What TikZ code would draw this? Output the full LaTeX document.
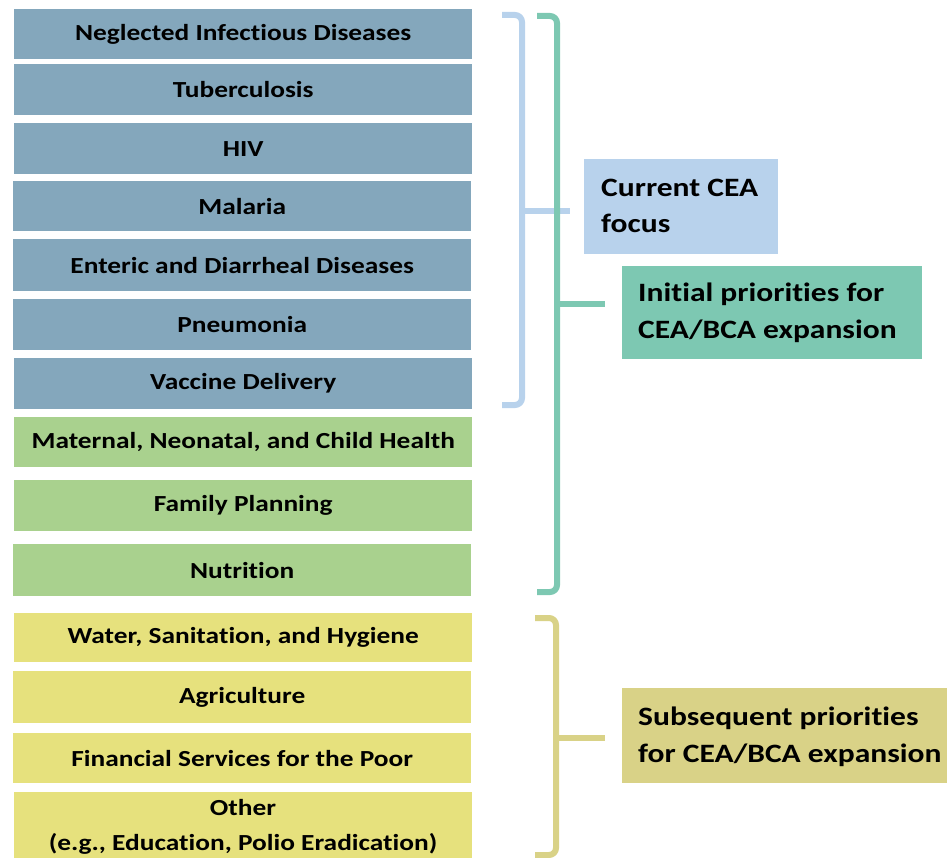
\documentclass[tikz,border=0pt]{standalone}
\usepackage{fontspec}
\setmainfont{Carlito}[FakeStretch=1.19, Ligatures=NoCommon]
\definecolor{boxblue}{RGB}{132,167,188}
\definecolor{boxgreen}{RGB}{169,209,142}
\definecolor{boxyellow}{RGB}{230,225,125}
\definecolor{lblblue}{RGB}{184,210,236}
\definecolor{lblteal}{RGB}{125,200,178}
\definecolor{lblolive}{RGB}{217,210,135}
\begin{document}
\begin{tikzpicture}[x=1pt,y=-1pt,
  item/.style={anchor=north west, minimum width=458pt, inner sep=0pt, align=center,
    font=\fontsize{23}{27}\selectfont\bfseries, text=black},
  itemtxt/.style={anchor=base, inner sep=0pt, font=\fontsize{23}{27}\selectfont\bfseries, text=black},
  lbl/.style={anchor=base west, inner sep=0pt,
    font=\fontsize{26.5}{36}\selectfont\bfseries, text=black},
  brk/.style={line width=6pt, rounded corners=7pt}]
\useasboundingbox (0,0) rectangle (947,858);
% left column
\node[item, fill=boxblue, minimum height=50pt] (b1) at (14,9) {Neglected Infectious Diseases};
\node[item, fill=boxblue, minimum height=51pt] (b2) at (14,64) {Tuberculosis};
\node[item, fill=boxblue, minimum height=51pt] (b3) at (14,123) {HIV};
\node[item, fill=boxblue, minimum height=50pt] (b4) at (13,181) {Malaria};
\node[item, fill=boxblue, minimum height=52pt] (b5) at (13,239) {Enteric and Diarrheal Diseases};
\node[item, fill=boxblue, minimum height=51pt] (b6) at (13,299) {Pneumonia};
\node[item, fill=boxblue, minimum height=51pt] (b7) at (14,358) {Vaccine Delivery};
\node[item, fill=boxgreen, minimum height=50pt] (b8) at (14,417) {Maternal, Neonatal, and Child Health};
\node[item, fill=boxgreen, minimum height=51pt] (b9) at (14,480) {Family Planning};
\node[item, fill=boxgreen, minimum height=52pt] (b10) at (13,544) {Nutrition};
\node[item, fill=boxyellow, minimum height=49pt] (b11) at (14,613) {Water, Sanitation, and Hygiene};
\node[item, fill=boxyellow, minimum height=52pt] (b12) at (13,671) {Agriculture};
\node[item, fill=boxyellow, minimum height=50pt] (b13) at (13,733) {Financial Services for the Poor};
\fill[boxyellow] (14,792) rectangle (472,870);
\node[itemtxt] (b14a) at (243,815) {Other};
\node[itemtxt] (b14b) at (243,850) {(e.g., Education, Polio Eradication)};
% labels
\fill[lblblue] (584,159) rectangle (778,254);
\node[lbl] (l1a) at (601,197) {Current CEA};
\node[lbl] (l1b) at (601,233) {focus};
\fill[lblteal] (622,266) rectangle (922,359);
\node[lbl] (l2a) at (638,302) {Initial priorities for};
\node[lbl] (l2b) at (638,338) {CEA/BCA expansion};
\fill[lblolive] (622,688) rectangle (960,783);
\node[lbl] (l3a) at (638,725) {Subsequent priorities};
\node[lbl] (l3b) at (638,762) {for CEA/BCA expansion};
% brackets
\coordinate (bt) at (502,15); \coordinate (bm) at (522,211); \coordinate (bb) at (502,405);
\draw[brk, lblblue] (bt) -- (bm |- bt) -- (bm) -- (bm |- bb) -- (bb);
\draw[line width=6pt, lblblue] (bm) -- (570,211);
\coordinate (gt) at (537,16); \coordinate (gm) at (557,304); \coordinate (gb) at (537,592);
\draw[brk, lblteal] (gt) -- (gm |- gt) -- (gm) -- (gm |- gb) -- (gb);
\draw[line width=6pt, lblteal] (gm) -- (605,304);
\coordinate (yt) at (535,618); \coordinate (ym) at (556,738); \coordinate (yb) at (535,855);
\draw[brk, lblolive] (yt) -- (ym |- yt) -- (ym) -- (ym |- yb) -- (yb);
\draw[line width=6pt, lblolive] (ym) -- (605,738);
\end{tikzpicture}
\end{document}
